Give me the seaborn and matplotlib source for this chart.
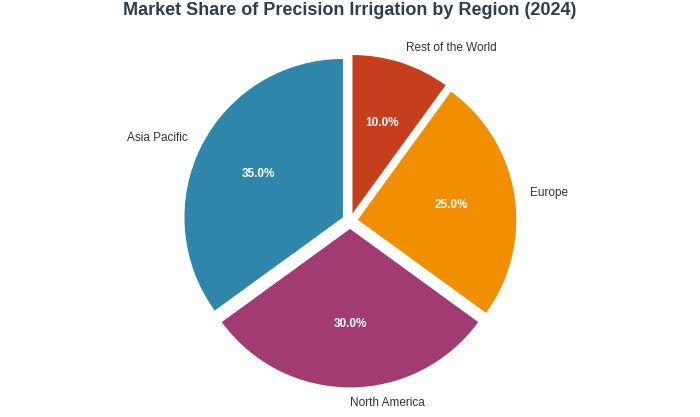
import matplotlib
matplotlib.use("Agg")
import matplotlib.pyplot as plt
import seaborn as sns

sns.set_theme(style="white")
plt.rcParams['font.family'] = ['Arial', 'Liberation Sans', 'DejaVu Sans']

regions = ["Asia Pacific", "North America", "Europe", "Rest of the World"]
shares = [35, 30, 25, 10]
colors = ["#2E86AB", "#A23B72", "#F18F01", "#C73E1D"]

fig, ax = plt.subplots(figsize=(7, 4.17), dpi=100)
wedges, texts, autotexts = ax.pie(
    shares, labels=regions, colors=colors, autopct="%1.1f%%",
    startangle=90, explode=[0.05] * 4, labeldistance=1.1, pctdistance=0.6,
    textprops={"fontsize": 8.5, "color": "#333333"},
    wedgeprops={"linewidth": 0})
for t in autotexts:
    t.set_color("white")
    t.set_fontweight("bold")
ax.set_aspect("equal")
ax.set_title("Market Share of Precision Irrigation by Region (2024)",
             fontsize=13, fontweight="bold", color="#2C3E50", pad=6)
plt.subplots_adjust(left=0.05, right=0.95, top=0.945, bottom=-0.005)
fig.savefig("out.png", dpi=100)
